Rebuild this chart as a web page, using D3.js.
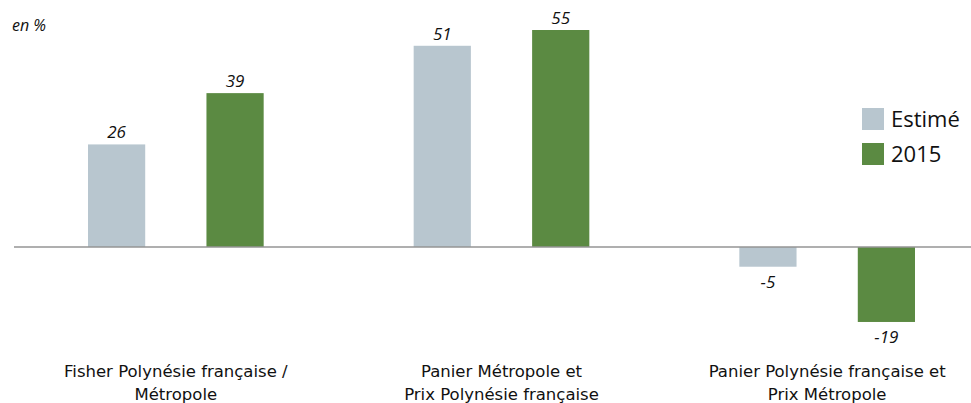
<!doctype html>
<html>
<head>
<meta charset="utf-8">
<script src="https://d3js.org/d3.v7.min.js"></script>
<style>
  body { margin: 0; background: #fff; }
</style>
</head>
<body>
<div id="chart"></div>
<script>
// data
var categories = [
    ["Fisher Polynésie française /", "Métropole"],
    ["Panier Métropole et", "Prix Polynésie française"],
    ["Panier Polynésie française et", "Prix Métropole"]
];
var seriesNames = ["Estimé", "2015"];
var estimeValues = [26, 51, -5];
var values2015 = [39, 55, -19];
var seriesColors = ["#b8c6cf", "#5b8a42"];

var width = 971, height = 403;

var svg = d3.select("#chart").append("svg")
    .attr("width", width)
    .attr("height", height);

// scales
var x0 = d3.scaleBand()
    .domain(d3.range(categories.length))
    .range([13, 990])
    .padding(0);

var x1 = d3.scaleBand()
    .domain(seriesNames)
    .range([75, x0.bandwidth() - 75])
    .paddingInner(0.517)
    .paddingOuter(0);

var y = d3.scaleLinear()
    .domain([0, 55])
    .range([247, 30]);

var color = d3.scaleOrdinal().domain(seriesNames).range(seriesColors);

var rows = [];
categories.forEach(function(c, i) {
    rows.push({cat: i, series: seriesNames[0], value: estimeValues[i]});
    rows.push({cat: i, series: seriesNames[1], value: values2015[i]});
});

// bars
svg.selectAll("rect.bar")
    .data(rows)
    .enter().append("rect")
    .attr("class", "bar")
    .attr("x", function(d) { return x0(d.cat) + x1(d.series); })
    .attr("y", function(d) { return y(Math.max(0, d.value)); })
    .attr("width", x1.bandwidth())
    .attr("height", function(d) { return Math.abs(y(d.value) - y(0)); })
    .style("fill", function(d) { return color(d.series); });

// zero line
svg.append("line")
    .attr("x1", 14).attr("x2", width)
    .attr("y1", y(0)).attr("y2", y(0))
    .style("stroke", "#949494")
    .style("stroke-width", 1.5);

// value labels
svg.selectAll("text.val")
    .data(rows)
    .enter().append("text")
    .attr("class", "val")
    .attr("text-anchor", "middle")
    .attr("x", function(d) { return x0(d.cat) + x1(d.series) + x1.bandwidth() / 2; })
    .attr("y", function(d) { return d.value >= 0 ? y(d.value) - 6 : y(d.value) + 21; })
    .style("font-family", "'Open Sans', sans-serif")
    .style("font-style", "italic")
    .style("font-size", "17px")
    .style("fill", "#111")
    .text(function(d) { return d.value; });

// category labels
var cat = svg.selectAll("text.cat")
    .data(categories)
    .enter().append("text")
    .attr("class", "cat")
    .attr("text-anchor", "middle")
    .attr("x", function(d, i) { return x0(i) + x0.bandwidth() / 2; })
    .attr("y", 377)
    .style("font-family", "'DejaVu Sans', sans-serif")
    .style("font-size", "16.5px")
    .style("fill", "#111");

cat.selectAll("tspan")
    .data(function(d) { return d; })
    .enter().append("tspan")
    .attr("x", function() { return d3.select(this.parentNode).attr("x"); })
    .attr("dy", function(d, i) { return i === 0 ? 0 : 23; })
    .text(function(d) { return d; });

// unit
svg.append("text")
    .attr("x", 12)
    .attr("y", 31)
    .style("font-family", "'Open Sans', sans-serif")
    .style("font-style", "italic")
    .style("font-size", "16px")
    .style("fill", "#111")
    .text("en %");

// legend
var legend = svg.selectAll("g.legend")
    .data(seriesNames)
    .enter().append("g")
    .attr("class", "legend")
    .attr("transform", function(d, i) { return "translate(862," + (108 + i * 35) + ")"; });

legend.append("rect")
    .attr("width", 22)
    .attr("height", 22)
    .style("fill", function(d) { return color(d); });

legend.append("text")
    .attr("x", 29)
    .attr("y", 19)
    .style("font-family", "'Open Sans', sans-serif")
    .style("font-size", "22px")
    .style("fill", "#111")
    .text(function(d) { return d; });
</script>
</body>
</html>
